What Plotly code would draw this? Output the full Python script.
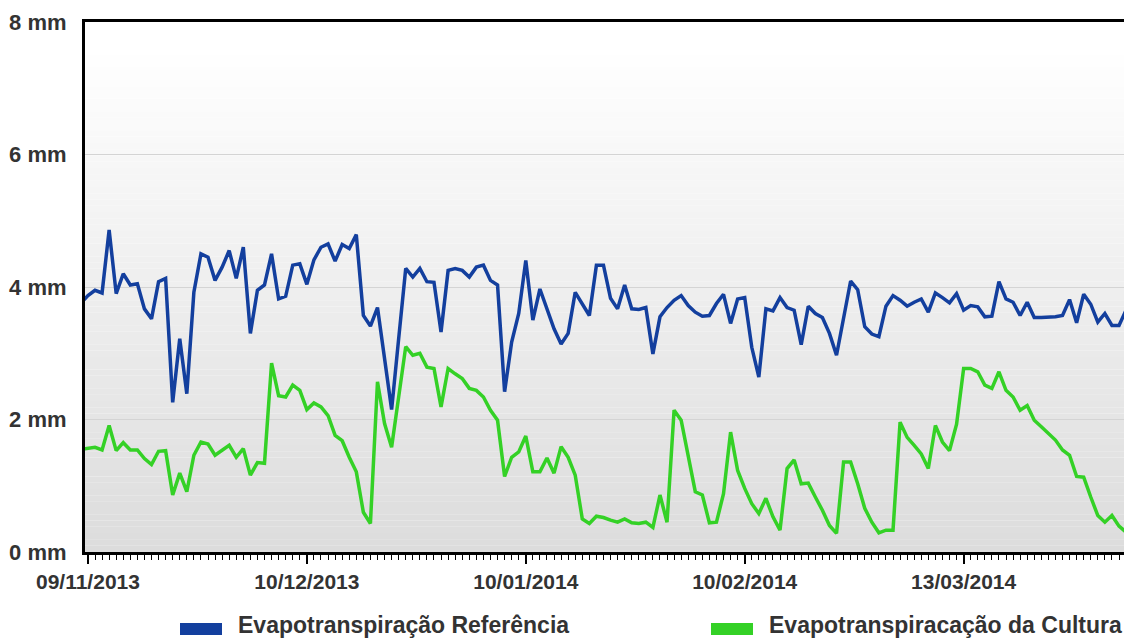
import pandas as pd
import plotly.graph_objects as go

# ---- data ----
start_date = "2013-11-08"
ref_et = [3.76, 3.87, 3.95, 3.91, 4.86, 3.90, 4.20, 4.03, 4.05, 3.67, 3.52, 4.08, 4.13, 2.26, 3.22, 2.39,
          3.92, 4.50, 4.45, 4.10, 4.30, 4.55, 4.13, 4.60, 3.30, 3.95, 4.03, 4.50, 3.82, 3.86, 4.33, 4.35,
          4.04, 4.41, 4.60, 4.65, 4.39, 4.64, 4.58, 4.79, 3.57, 3.41, 3.69, 2.92, 2.15, 3.22, 4.28, 4.15,
          4.28, 4.08, 4.07, 3.32, 4.25, 4.28, 4.25, 4.15, 4.30, 4.33, 4.10, 4.03, 2.42, 3.17, 3.60, 4.40,
          3.50, 3.97, 3.67, 3.37, 3.14, 3.30, 3.92, 3.75, 3.57, 4.33, 4.33, 3.83, 3.67, 4.03, 3.67, 3.66,
          3.69, 2.99, 3.55, 3.69, 3.80, 3.87, 3.72, 3.62, 3.56, 3.57, 3.75, 3.89, 3.45, 3.82, 3.84, 3.09,
          2.64, 3.67, 3.64, 3.84, 3.69, 3.65, 3.13, 3.71, 3.60, 3.54, 3.30, 2.97, 3.55, 4.09, 3.96, 3.40,
          3.29, 3.25, 3.71, 3.87, 3.80, 3.71, 3.77, 3.82, 3.62, 3.91, 3.84, 3.76, 3.90, 3.65, 3.72, 3.70,
          3.55, 3.56, 4.08, 3.82, 3.77, 3.57, 3.77, 3.54, 3.54, 3.54, 3.55, 3.57, 3.81, 3.46, 3.89, 3.74,
          3.47, 3.60, 3.42, 3.42, 3.65]
crop_et = [1.55, 1.57, 1.58, 1.54, 1.91, 1.53, 1.65, 1.54, 1.54, 1.41, 1.32, 1.52, 1.53, 0.86, 1.19, 0.91,
           1.46, 1.66, 1.63, 1.46, 1.53, 1.61, 1.43, 1.56, 1.16, 1.35, 1.34, 2.85, 2.36, 2.34, 2.52, 2.44,
           2.15, 2.25, 2.19, 2.06, 1.76, 1.68, 1.43, 1.21, 0.60, 0.43, 2.57, 1.94, 1.58, 2.34, 3.10, 2.97,
           3.00, 2.79, 2.77, 2.19, 2.77, 2.69, 2.62, 2.47, 2.44, 2.34, 2.14, 1.99, 1.14, 1.43, 1.51, 1.75,
           1.21, 1.21, 1.42, 1.19, 1.59, 1.43, 1.16, 0.50, 0.43, 0.54, 0.52, 0.48, 0.45, 0.50, 0.44, 0.43,
           0.45, 0.37, 0.86, 0.45, 2.14, 1.99, 1.46, 0.91, 0.86, 0.44, 0.45, 0.88, 1.81, 1.23, 0.96, 0.73,
           0.58, 0.81, 0.53, 0.33, 1.26, 1.39, 1.03, 1.04, 0.83, 0.63, 0.40, 0.28, 1.36, 1.36, 1.03, 0.66,
           0.45, 0.29, 0.33, 0.33, 1.96, 1.73, 1.61, 1.48, 1.26, 1.91, 1.66, 1.53, 1.93, 2.77, 2.77, 2.72,
           2.52, 2.47, 2.72, 2.44, 2.34, 2.14, 2.21, 1.99, 1.89, 1.79, 1.69, 1.54, 1.46, 1.14, 1.13, 0.83,
           0.55, 0.45, 0.55, 0.39, 0.30]
tick_dates = ["2013-11-09", "2013-12-10", "2014-01-10", "2014-02-10", "2014-03-13"]
tick_labels = ["09/11/2013", "10/12/2013", "10/01/2014", "10/02/2014", "13/03/2014"]
y_ticks = [0, 2, 4, 6, 8]
y_labels = ["0 mm", "2 mm", "4 mm", "6 mm", "8 mm"]
series_names = ["Evapotranspiração Referência", "Evapotranspiracação da Cultura"]
series_colors = ["#133f9e", "#34d126"]

dates = pd.date_range(start_date, periods=len(ref_et), freq="D")

fig = go.Figure()
fig.add_trace(go.Scatter(x=dates, y=ref_et, mode="lines", name=series_names[0],
                         line=dict(color=series_colors[0], width=3.5), showlegend=False))
fig.add_trace(go.Scatter(x=dates, y=crop_et, mode="lines", name=series_names[1],
                         line=dict(color=series_colors[1], width=3.5), showlegend=False))

# background gradient (white at top -> light grey at bottom)
shapes = []
n = 80
top_v, bot_v = 7.6, 0.0
c_top, c_bot = 255, 220
for i in range(n):
    y0 = bot_v + (top_v - bot_v) * i / n
    y1 = bot_v + (top_v - bot_v) * (i + 1) / n
    t = (i + 0.5) / n
    c = int(round(c_bot + (c_top - c_bot) * t))
    shapes.append(dict(type="rect", xref="paper", yref="y", x0=0, x1=1, y0=y0, y1=y1 + 0.001,
                       fillcolor=f"rgb({c},{c},{c})", line=dict(width=0), layer="below"))

# manual legend swatches
legend_font = dict(family="Liberation Sans, Arial, sans-serif", size=23, color="#333333", weight="bold")
PW, PH = 1039, 530
def px(x):
    return (x - 85) / PW
def py(y):
    return (552 - y) / PH

annotations = []
for (x0, x1, tx), name, col in zip([(180, 222, 236), (711, 753, 767)], series_names, series_colors):
    shapes.append(dict(type="rect", xref="paper", yref="paper", x0=px(x0), x1=px(x1),
                       y0=py(635), y1=py(623), fillcolor=col, line=dict(width=0), layer="above"))
    annotations.append(dict(xref="paper", yref="paper", x=px(tx), y=py(625), text=name,
                            showarrow=False, xanchor="left", yanchor="middle", font=legend_font))

tick_font = dict(family="Liberation Sans, Arial, sans-serif", size=21, color="#333333", weight="bold")
ytick_font = dict(family="Liberation Sans, Arial, sans-serif", size=22, color="#333333", weight="bold")

fig.update_layout(
    width=1124, height=639,
    margin=dict(l=85, r=0, t=22, b=87, autoexpand=False),
    paper_bgcolor="white", plot_bgcolor="white",
    shapes=shapes, annotations=annotations,
    showlegend=False,
    xaxis=dict(
        type="date", automargin=False,
        range=["2013-11-08 14:00", "2014-04-04 17:00"],
        tickmode="array", tickvals=tick_dates, ticktext=tick_labels,
        ticks="outside", ticklen=9, tickwidth=2, tickcolor="black",
        ticklabelstandoff=0,
        showline=True, linecolor="black", linewidth=3, mirror=True,
        showgrid=False, zeroline=False,
        tickfont=tick_font,
        minor=dict(ticks="outside", ticklen=5, tickwidth=1, tickcolor="black",
                   dtick=86400000, tick0="2013-11-09", showgrid=False),
    ),
    yaxis=dict(
        range=[0, 8], automargin=False,
        tickmode="array", tickvals=y_ticks, ticktext=y_labels,
        showline=True, linecolor="black", linewidth=3,
        showgrid=True, gridcolor="#d4d4d4", gridwidth=1,
        zeroline=False, ticks="", ticklabelstandoff=11,
        tickfont=ytick_font,
    ),
)

fig.write_html("out.html", config={"displayModeBar": False},
               post_script="document.body.style.margin='0';document.body.style.overflow='hidden';")
